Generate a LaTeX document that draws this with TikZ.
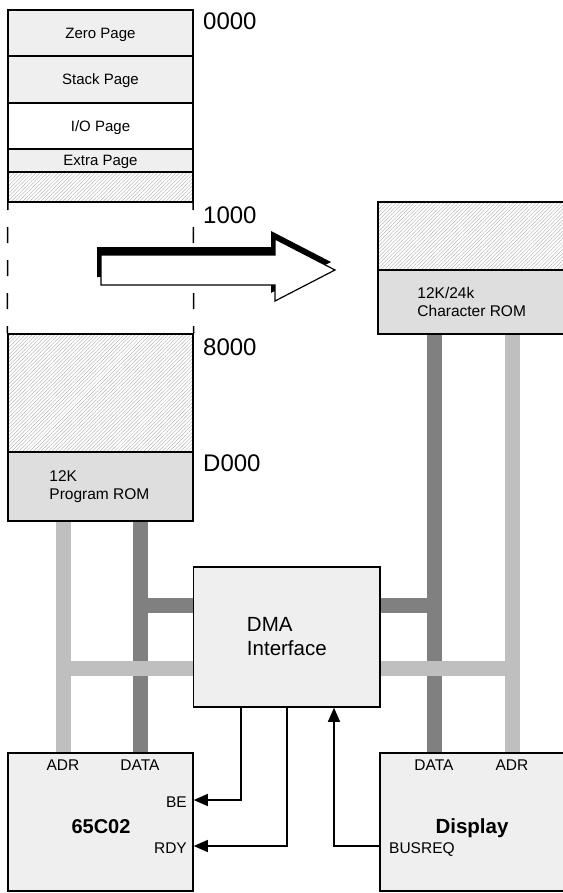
\documentclass[tikz,border=0pt]{standalone}
\usepackage{fontspec}
\setmainfont{Liberation Sans}
\usetikzlibrary{arrows.meta,positioning,patterns.meta,backgrounds}
\definecolor{memGray}{RGB}{239,239,239}
\definecolor{romGray}{RGB}{222,222,222}
\definecolor{adrGray}{RGB}{191,191,191}
\definecolor{dataGray}{RGB}{128,128,128}
\definecolor{hatchGray}{RGB}{165,165,165}

\begin{document}
\begin{tikzpicture}[
      x=1pt, y=-1pt,
      blk/.style={draw, line width=1.5pt, minimum width=185pt, inner sep=0pt, text depth=0pt, font=\fontsize{15}{18}\selectfont},
      hatchblk/.style={blk, pattern={Lines[angle=45,distance=2.6pt,line width=0.35pt]}, pattern color=hatchGray},
      chip/.style={draw, line width=1.5pt, fill=memGray, minimum height=138pt, inner sep=0pt},
      txt/.style={font=\fontsize{15.5}{18.5}\selectfont, inner sep=0pt, align=left},
      bigtxt/.style={font=\fontsize{20.5}{24}\selectfont, inner sep=0pt, align=left},
      addr/.style={font=\fontsize{24}{28}\selectfont, inner sep=0pt, anchor=west},
      pinlbl/.style={font=\fontsize{15.5}{18}\selectfont, inner sep=0pt, anchor=base},
      adrbus/.style={line width=15pt, draw=adrGray},
      databus/.style={line width=15pt, draw=dataGray},
      memdash/.style={line width=1.5pt, dash pattern=on 16pt off 17pt, dash phase=8pt},
      sigline/.style={-{Triangle[length=14pt,width=12pt]}, line width=1.3pt}
    ]
      \useasboundingbox (0,0) rectangle (562,893);
      % memory map
      \node[blk, fill=memGray, minimum height=46pt] (zp) at (100.5,33) {Zero Page};
      \node[blk, fill=memGray, minimum height=47pt] (sp) at (100.5,79.5) {Stack Page};
      \node[blk, fill=white, minimum height=46pt] (io) at (100.5,126) {I/O Page};
      \node[blk, fill=memGray, minimum height=23pt] (ep) at (100.5,160.5) {Extra Page};
      \node[hatchblk, minimum height=30pt] (hz1) at (100.5,187) {};
      \node[hatchblk, minimum height=118pt] (hz2) at (100.5,393) {};
      \node[blk, fill=romGray, minimum height=69pt] (prom) at (100.5,486.5) {};
      \node[txt, anchor=west, right=42pt of prom.west] (promlbl) {12K\\Program ROM};
      \draw[memdash] (hz1.south west) -- (hz2.north west);
      \draw[memdash] (hz1.south east) -- (hz2.north east);
      \node[addr] (a0000) at (203,21) {0000};
      \node[addr] (a1000) at (203,215) {1000};
      \node[addr] (a8000) at (203,347) {8000};
      \node[addr] (aD000) at (203,463) {D000};
      % character rom
      \node[hatchblk, minimum width=188pt, minimum height=68pt] (hz3) at (472,236) {};
      \node[blk, fill=romGray, minimum width=188pt, minimum height=64pt] (crom) at (472,302) {};
      \node[txt, anchor=west, right=40pt of crom.west] (cromlbl) {12K/24k\\Character ROM};
      % mapping arrow
      \fill[shift={(-4,-8)}] (101,255) -- (275,255) -- (275,239) -- (335,270) -- (275,301) -- (275,285) -- (101,285) -- cycle;
      \draw[fill=white, line width=1.2pt] (101,255) -- (275,255) -- (275,239) -- (335,270) -- (275,301) -- (275,285) -- (101,285) -- cycle;
      % dma, cpu, display
      \node[chip, minimum width=186.5pt, minimum height=140pt] (dma) at (286.75,637) {};
      \node[bigtxt, anchor=west, right=54pt of dma.west] (dmalbl) {DMA\\Interface};
      \node[chip, minimum width=185pt] (cpu) at (100.5,822) {};
      \node[chip, minimum width=186pt] (disp) at (473,822) {};
      \node[font=\fontsize{20}{24}\bfseries, inner sep=0pt, anchor=base] (cpulbl) at (101,833) {65C02};
      \node[font=\fontsize{20.5}{24}\bfseries, inner sep=0pt, anchor=base] (displbl) at (472,833) {Display};
      \node[pinlbl] (cpuadr) at (63,770) {ADR};
      \node[pinlbl] (cpudat) at (140,770) {DATA};
      \node[pinlbl, anchor=base east] (cpube) at (187,807) {BE};
      \node[pinlbl, anchor=base east] (cpurdy) at (187,853) {RDY};
      \node[pinlbl] (dispdat) at (434,770) {DATA};
      \node[pinlbl] (dispadr) at (512,770) {ADR};
      \node[pinlbl, anchor=base west] (dispreq) at (389,853) {BUSREQ};
      % buses
      \coordinate (ladr) at (63,0);
      \coordinate (ldat) at (140,0);
      \coordinate (rdat) at (434,0);
      \coordinate (radr) at (512,0);
      \coordinate (dtap) at (0,605);
      \coordinate (atap) at (0,668);
      \begin{scope}[on background layer]
        \draw[databus] (prom.south -| ldat) -- (cpu.north -| ldat);
        \draw[databus] (crom.south -| rdat) -- (disp.north -| rdat);
        \draw[databus] (ldat |- dtap) -- (dma.west |- dtap);
        \draw[databus] (dma.east |- dtap) -- (rdat |- dtap);
        \draw[adrbus] (prom.south -| ladr) -- (cpu.north -| ladr);
        \draw[adrbus] (crom.south -| radr) -- (disp.north -| radr);
        \draw[adrbus] (ladr |- atap) -- (dma.west |- atap);
        \draw[adrbus] (dma.east |- atap) -- (radr |- atap);
      \end{scope}
      % control lines
      \coordinate (bex) at (241,0);
      \coordinate (bey) at (0,800);
      \coordinate (rdyx) at (287,0);
      \coordinate (rdyy) at (0,846);
      \coordinate (reqx) at (334,0);
      \draw[sigline] (dma.south -| bex) |- (cpu.east |- bey);
      \draw[sigline] (dma.south -| rdyx) |- (cpu.east |- rdyy);
      \draw[sigline] (disp.west |- rdyy) -| (dma.south -| reqx);
    \end{tikzpicture}
\end{document}
